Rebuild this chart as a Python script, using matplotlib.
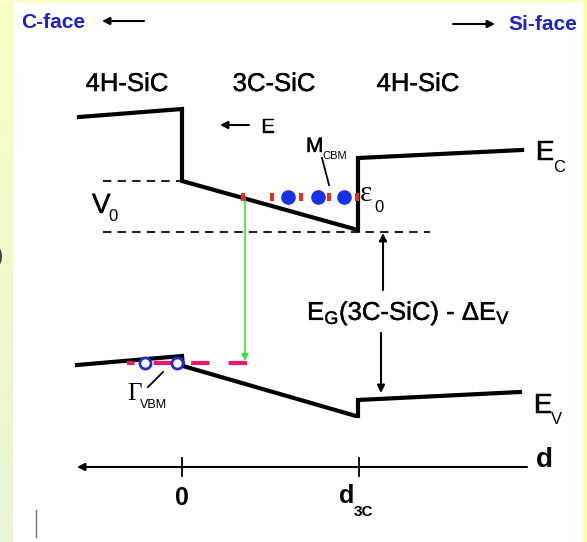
import matplotlib
matplotlib.use('agg')
import matplotlib.pyplot as plt
import matplotlib.patheffects as pe
import numpy as np

plt.rcParams['font.family'] = ['Liberation Sans', 'DejaVu Sans']
plt.rcParams['mathtext.fontset'] = 'custom'
plt.rcParams['mathtext.rm'] = 'Liberation Sans'
plt.rcParams['mathtext.it'] = 'Liberation Sans'

# band edges, in picture units (x to the right, y downwards)
ec_x = [79, 182, 182, 358, 358, 522]
ec_y = [117, 109, 181, 230, 158, 150]
ev_x = [77, 182, 183, 356, 358, 358, 520]
ev_y = [365, 356, 366, 416, 416, 400, 392]

# reference levels
v0_top = 181
v0_bottom = 232
v0_top_x = [103, 182]
v0_bottom_x = [103, 430]

# confined electron states near the 3C/4H interface
eps0_y = 197
red_x = [243, 272, 301, 329, 357]
mcbm_x = [288, 318, 344]

# hole states at the valence band maximum
vbm_y = 363
vbm_line_x = [247, 127]
gvbm_x = [145, 177]

# positions along d
axis_y = 467
axis_x = [527, 77]
tick_x = [182, 359]
tick_labels = ['0', 'd']
layer_names = ['4H-SiC', '3C-SiC', '4H-SiC']
layer_x = [127, 274, 418]

fig = plt.figure(figsize=(5.87, 5.42), dpi=100)
ax = fig.add_axes([0, 0, 1, 1])
ax.set_xlim(0, 587)
ax.set_ylim(542, 0)
ax.axis('off')

# yellow frame round the white slide
grad = np.linspace(0, 1, 100).reshape(-1, 1)
top_c = np.array([0.98, 0.99, 0.76])
bot_c = np.array([0.91, 0.96, 0.83])
img = top_c[None, None, :] * (1 - grad[:, :, None]) + bot_c[None, None, :] * grad[:, :, None]
ax.imshow(img, extent=[0, 13, 542, 0], aspect='auto', zorder=0)
ax.axhspan(0, 3, color='#fdfdc8', zorder=0, lw=0)
ax.axvspan(584, 587, color='#ffff9c', zorder=0, lw=0)

# bands
ax.plot(ec_x, ec_y, color='black', lw=3, solid_joinstyle='miter', zorder=3)
ax.plot(ev_x, ev_y, color='black', lw=3, solid_joinstyle='miter', zorder=3)

ax.plot(v0_top_x, [v0_top] * 2, color='#222222', lw=1.5, ls=(0, (4, 3)), zorder=2)
ax.plot(v0_bottom_x, [v0_bottom] * 2, color='#222222', lw=1.5, ls=(0, (4, 3)), zorder=2)

# electron level and M_CBM valleys
ax.plot(red_x, [eps0_y] * len(red_x), ls='none', marker='|', ms=5.5, mew=3,
        color='#e0321e', zorder=4)
ax.plot(mcbm_x, [eps0_y] * len(mcbm_x), ls='none', marker='o', ms=9.5,
        color='#1433e6', zorder=5)

# hole level and Gamma_VBM
ax.plot(vbm_line_x, [vbm_y] * 2, color='#e8186e', lw=3, ls=(0, (4.4, 4.6)), zorder=4)
ax.plot(gvbm_x, [vbm_y] * len(gvbm_x), ls='none', marker='o', ms=8, mew=2,
        mec='#1f2fd0', mfc='white', zorder=5)

# optical transition
ax.annotate('', xy=(red_x[0] + 2, vbm_y - 2), xytext=(red_x[0] + 2, eps0_y + 2),
            arrowprops=dict(arrowstyle='-|>', color='#3ee03e', lw=1.2,
                            mutation_scale=10, shrinkA=0, shrinkB=0), zorder=3)

# field and face arrows
arr = dict(arrowstyle='-|>', color='black', lw=1.5, mutation_scale=11, shrinkA=0, shrinkB=0)
ax.annotate('', xy=(102, 21), xytext=(144, 21), arrowprops=arr)
ax.annotate('', xy=(495, 24), xytext=(453, 24), arrowprops=arr)
ax.annotate('', xy=(220, 125), xytext=(249, 125), arrowprops=arr)

# gap arrows
ax.annotate('', xy=(383, v0_bottom + 1), xytext=(383, 290), arrowprops=arr)
ax.annotate('', xy=(381, 393), xytext=(381, 333), arrowprops=arr)

# pointers
ax.plot([322, 329], [158, 185], color='black', lw=1.3)
ax.plot([148, 163], [387, 372], color='black', lw=1.3)

# d axis
ax.annotate('', xy=(axis_x[1], axis_y), xytext=(axis_x[0], axis_y), arrowprops=arr)
for tx in tick_x:
    ax.plot([tx, tx], [458, 476], color='black', lw=1.3)

# text (a thin stroke makes it look as heavy as the scanned slide)
heavy = [pe.withStroke(linewidth=0.3, foreground='black')]
ax.text(21, 28, 'C-face', color='#1c22cc', fontsize=15, fontweight='bold')
ax.text(508, 30, 'Si-face', color='#1c22cc', fontsize=15, fontweight='bold')
for name, lx in zip(layer_names, layer_x):
    ax.text(lx, 91, name, fontsize=18.5, ha='center', va='baseline', path_effects=heavy)
ax.text(261, 133, 'E', fontsize=15, va='baseline', path_effects=heavy)

ax.text(92, 213, 'V', fontsize=20, va='baseline', path_effects=heavy)
ax.text(108, 221, '0', fontsize=12, va='baseline')

ax.text(360, 201, 'ε', fontsize=21, family='Liberation Serif', va='baseline')
ax.text(374, 212, '0', fontsize=12, va='baseline')

ax.text(306, 152, 'M', fontsize=15, va='baseline', path_effects=heavy)
ax.text(322, 159, 'CBM', fontsize=8, va='baseline')

ax.text(536, 160, 'E', fontsize=20, va='baseline', path_effects=heavy)
ax.text(553, 172, 'C', fontsize=12, va='baseline')
ax.text(534, 413, 'E', fontsize=20, va='baseline', path_effects=heavy)
ax.text(551, 424, 'V', fontsize=12, va='baseline')

ax.text(127, 400, 'Γ', fontsize=18, family='Liberation Serif', va='baseline')
ax.text(140, 408, 'VBM', fontsize=9, va='baseline')

ax.text(307, 320, 'E$_\\mathrm{G}$(3C-SiC) - ΔE$_\\mathrm{V}$', fontsize=18.5,
        va='baseline', path_effects=heavy)

ax.text(tick_x[0], 505, tick_labels[0], fontsize=18, fontweight='bold', ha='center', va='baseline')
ax.text(339, 503, tick_labels[1], fontsize=18, fontweight='bold', va='baseline')
ax.text(354, 516, '3C', fontsize=11, fontweight='bold', va='baseline')
ax.text(536, 467, 'd', fontsize=20, fontweight='bold', va='baseline')

# scan leftovers at the left edge
ax.text(-4, 262, ')', fontsize=16, color='#444444', va='baseline')
ax.plot([36, 36], [510, 537], color='#777777', lw=1)

fig.savefig('out.png', dpi=100)
